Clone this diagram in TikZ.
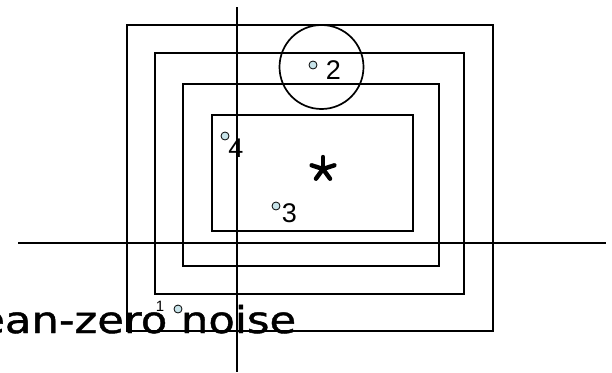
\documentclass[tikz,border=0pt]{standalone}
\usepackage{fontspec}
\setmainfont{Liberation Sans}
\newfontfamily\noisefont[FakeStretch=1.17,FakeBold=1.2]{DejaVu Sans}
\usepackage{tikz}
\usetikzlibrary{positioning}
\definecolor{DotBlue}{RGB}{200,228,234}

\begin{document}
\begin{tikzpicture}[x=1pt,y=-1pt,line width=1.7pt,
    sample/.style={circle,draw,line width=0.8pt,fill=DotBlue,inner sep=0pt,minimum size=8pt},
    num/.style={font=\fontsize{27}{28}\selectfont,inner sep=0pt}]
  \useasboundingbox (0,0) rectangle (612,372);
  % nested regions
  \draw (127,25) rectangle (493,331);
  \draw (155,53) rectangle (464,294);
  \draw (183,84) rectangle (439,266);
  \draw (212,115) rectangle (413,231);
  \draw (321.5,67) circle (42);
  % axes
  \draw (18,243) -- (606,243);
  \draw (237,7) -- (237,372);
  % true position
  \foreach \a in {90,162,18,234,306}
    \draw[line width=4.4pt,line cap=round] (323,169) -- ++(\a:-12);
  % measurements
  \node[sample] (p1) at (178,309) {};
  \node[sample] (p2) at (313,65) {};
  \node[sample] (p3) at (276,206) {};
  \node[sample] (p4) at (225,136) {};
  \node[num,font=\fontsize{15}{16}\selectfont] (n1) at (160,306) {1};
  \node[num] (n2) at (333.5,70) {2};
  \node[num] (n3) at (289.5,213) {3};
  \node[num] (n4) at (236,148) {4};
  \node[anchor=base east,inner sep=0pt,font=\noisefont\fontsize{37}{40}\selectfont]
    (noise) at (297,333) {mean-zero noise};
\end{tikzpicture}
\end{document}
